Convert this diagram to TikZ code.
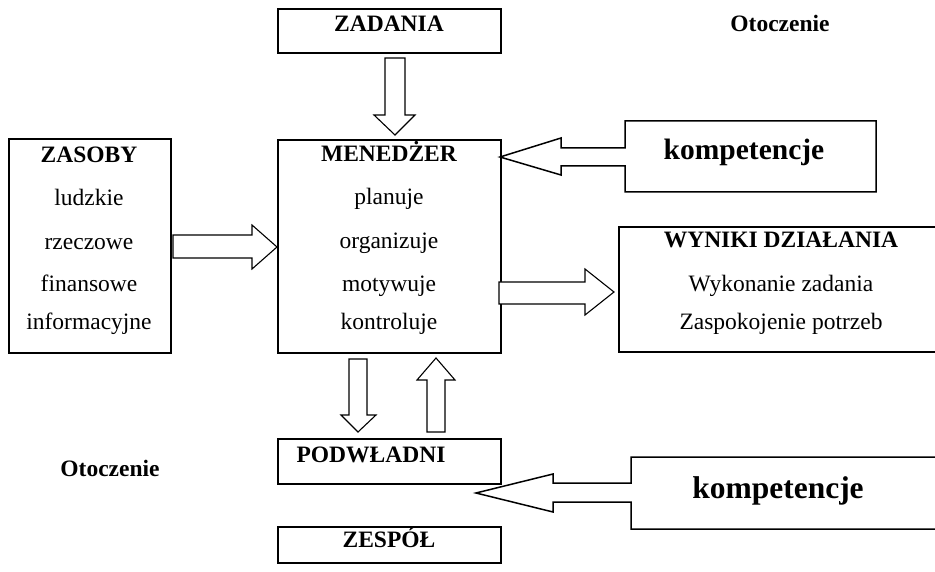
\documentclass[tikz,border=0pt]{standalone}
\usepackage{fontspec}
\setmainfont{Liberation Serif}
\begin{document}
\begin{tikzpicture}[x=1pt,y=-1pt,
  box/.style={draw,line width=1.6pt,rectangle,inner sep=0pt,anchor=north west},
  blockarrow/.style={draw,line width=1.1pt,fill=white,line join=miter},
  callout/.style={draw,line width=1.5pt,line join=miter},
  txt/.style={anchor=base,inner sep=0pt,font=\fontsize{23.5}{28}\selectfont},
  btxt/.style={txt,font=\fontsize{23.5}{28}\selectfont\bfseries},
  bigtxt/.style={anchor=base,inner sep=0pt}]
\useasboundingbox (0,0) rectangle (935,572);
\clip (0,0) rectangle (935,572);

% boxes
\node[box,minimum width=223pt,minimum height=44pt] (zad) at (277,8) {};
\node[box,minimum width=162pt,minimum height=214pt] (zas) at (8,138) {};
\node[box,minimum width=223pt,minimum height=213pt] (men) at (277,139) {};
\node[box,minimum width=223pt,minimum height=45pt] (pod) at (277,438) {};
\node[box,minimum width=223pt,minimum height=36pt] (zes) at (277,526) {};
\coordinate (wynTR) at (937,227);
\coordinate (wynBR) at (937,352);
\draw[line width=1.6pt] (wynTR) -- (619,227) coordinate (wynTL) -- (619,352) coordinate (wynBL) -- (wynBR);

% texts
\node[btxt] (tzad) at (389,32) {ZADANIA};
\node[btxt] (oto1) at (780,32) {Otoczenie};
\node[btxt] (oto2) at (110,476) {Otoczenie};

\node[btxt] (tzas) at (89,163) {ZASOBY};
\node[txt] (t1) at (89,206) {ludzkie};
\node[txt] (t2) at (89,250) {rzeczowe};
\node[txt] (t3) at (89,292) {finansowe};
\node[txt] (t4) at (89,329) {informacyjne};

\node[btxt] (tmen) at (389,162) {MENEDŻER};
\node[txt] (m1) at (389,205) {planuje};
\node[txt] (m2) at (389,249) {organizuje};
\node[txt] (m3) at (389,291) {motywuje};
\node[txt] (m4) at (389,329) {kontroluje};

\node[btxt] (twyn) at (781,248) {WYNIKI DZIAŁANIA};
\node[txt] (w1) at (781,292) {Wykonanie zadania};
\node[txt] (w2) at (781,330) {Zaspokojenie potrzeb};

\node[btxt] (tpod) at (371,462) {PODWŁADNI};
\node[btxt] (tzes) at (389,547) {ZESPÓŁ};

\node[bigtxt,font=\fontsize{29.5}{34}\selectfont\bfseries] (k1) at (744,160) {kompetencje};
\node[bigtxt,font=\fontsize{31.5}{36}\selectfont\bfseries] (k2) at (778,498) {kompetencje};

% block arrows
\draw[blockarrow] (385,58) -- (405,58) -- (405,115) -- (415,115) -- (395,135) -- (374,115) -- (385,115) -- cycle;
\draw[blockarrow] (173,235) -- (252,235) -- (252,225) -- (277,247) -- (252,269) -- (252,258) -- (173,258) -- cycle;
\draw[blockarrow] (499,282) -- (585,282) -- (585,269) -- (614,292) -- (585,315) -- (585,304) -- (499,304) -- cycle;
\draw[blockarrow] (349,359) -- (367,359) -- (367,415) -- (376,415) -- (358,432) -- (341,415) -- (349,415) -- cycle;
\draw[blockarrow] (427,432) -- (445,432) -- (445,380) -- (455,380) -- (436,358) -- (417,380) -- (427,380) -- cycle;

% callouts
\draw[callout] (625,121) -- (876,121) -- (876,192) -- (625,192) -- (625,166) -- (561,166) -- (561,175) -- (500,157) -- (561,138) -- (561,148) -- (625,148) -- cycle;
\draw[callout] (940,457) -- (631,457) -- (631,483) -- (553,483) -- (553,474) -- (476,493) -- (553,512) -- (553,502) -- (631,502) -- (631,529) -- (940,529);
\end{tikzpicture}
\end{document}
